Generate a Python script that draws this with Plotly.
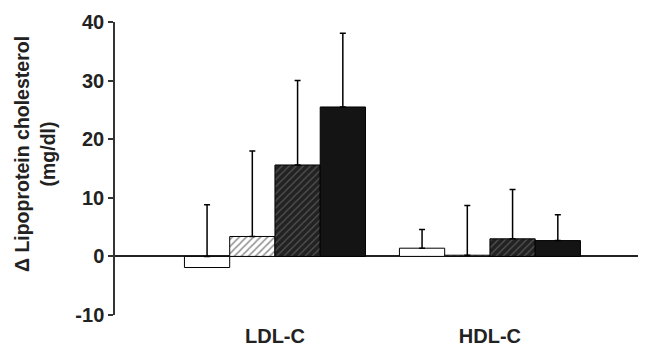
import plotly.graph_objects as go

categories = ["LDL-C", "HDL-C"]
series_names = ["Group 1", "Group 2", "Group 3", "Group 4"]
means = [
    [-1.9, 1.4],
    [3.4, 0.2],
    [15.6, 3.0],
    [25.5, 2.7],
]
sds = [
    [10.7, 3.2],
    [14.6, 8.5],
    [14.4, 8.4],
    [12.6, 4.4],
]
y_ticks = [-10, 0, 10, 20, 30, 40]

styles = [
    dict(color="white", pattern=None),
    dict(color="white", pattern=dict(shape="/", fgcolor="#222", bgcolor="white", size=5, solidity=0.3)),
    dict(color="#2a2a2a", pattern=dict(shape="/", fgcolor="#8a8a8a", bgcolor="#222222", size=5, solidity=0.22)),
    dict(color="#141414", pattern=None),
]

FONT = "Liberation Sans, Arial, sans-serif"

fig = go.Figure()
for i, name in enumerate(series_names):
    st = styles[i]
    marker = dict(color=st["color"], line=dict(color="black", width=1))
    if st["pattern"] is not None:
        marker["pattern"] = st["pattern"]
    fig.add_trace(go.Bar(
        x=categories, y=means[i], name=name, offsetgroup=str(i),
        marker=marker, showlegend=False,
    ))
    base_vals = [max(m, 0) for m in means[i]]
    tops = [m + s for m, s in zip(means[i], sds[i])]
    fig.add_trace(go.Bar(
        x=categories, y=base_vals, offsetgroup=str(i),
        marker=dict(color="rgba(0,0,0,0)", line=dict(width=0)),
        showlegend=False, hoverinfo="skip",
        error_y=dict(type="data", symmetric=False,
                     array=[t - b for t, b in zip(tops, base_vals)],
                     arrayminus=[0, 0], color="black", thickness=1.5, width=3),
    ))

# page body has an 8px default margin; compensate so plot area lands where the reference has it
fig.update_layout(
    width=638, height=339,
    margin=dict(l=107, r=6, t=14, b=32),
    paper_bgcolor="white", plot_bgcolor="white",
    barmode="group", bargap=0.158, bargroupgap=0,
    font=dict(family=FONT, color="#222"),
)
fig.update_xaxes(
    type="category", range=[-0.744, 1.698], automargin=False,
    showline=False, showgrid=False, zeroline=False,
    ticks="outside", ticklen=3, tickcolor="rgba(0,0,0,0)",
    tickfont=dict(size=20, family=FONT, weight="bold"),
)
fig.update_yaxes(
    range=[-10, 40], tickvals=y_ticks, ticktext=[str(v) for v in y_ticks],
    automargin=False,
    showline=True, linecolor="#333", linewidth=1.5,
    ticks="outside", ticklen=5, tickwidth=1.5, tickcolor="#333",
    showgrid=False, zeroline=True, zerolinecolor="#222", zerolinewidth=1.5,
    tickfont=dict(size=20, family=FONT, weight="bold"),
)
fig.add_annotation(
    text="Δ Lipoprotein cholesterol<br>(mg/dl)", textangle=-90,
    xref="paper", yref="paper", x=-0.152, y=0.55,
    xanchor="center", yanchor="middle", showarrow=False,
    font=dict(size=19.5, family=FONT, weight="bold", color="#222"),
)
fig.write_html("out.html")
